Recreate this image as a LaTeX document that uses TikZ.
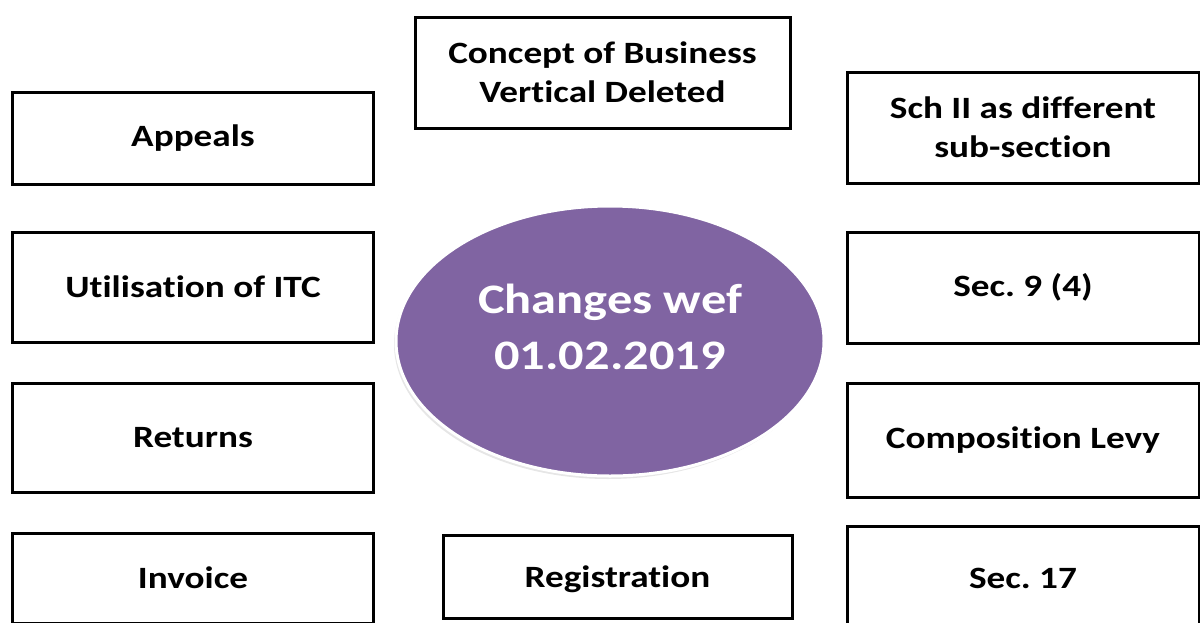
\documentclass[tikz,border=0pt]{standalone}
\usepackage{fontspec}
\setmainfont{Carlito}[FakeStretch=1.2, Ligatures={NoCommon}]
\usetikzlibrary{shapes.geometric,shadows}
\definecolor{hubpurple}{HTML}{8064A2}
\frenchspacing
\begin{document}
\begin{tikzpicture}[x=1pt,y=-1pt]

\def\lcol{193}
\def\rcol{1023}

\tikzset{
        every node/.style={font=\fontsize{31}{39}\selectfont\bfseries, align=center, inner sep=0pt},
        item/.style={draw, line width=3pt},
        hub/.style={ellipse, fill=hubpurple, draw=white, line width=3pt,
                drop shadow={shadow xshift=-2pt, shadow yshift=-3pt, opacity=.2, fill=gray}},
        hub text/.style={text=white, font=\fontsize{42}{56}\selectfont\bfseries}
}

\useasboundingbox (0,0) rectangle (1200,622);

% centre
\node[hub, minimum width=428pt, minimum height=270pt] (H) at (610,341) {};
\node[hub text] (H label) at ([yshift=14pt]H.center) {Changes wef\\01.02.2019};

% left column
\foreach \n/\y/\h/\t in {appeals/138/92/Appeals, itc/287/110/Utilisation of ITC,
                         returns/437.5/109/Returns, invoice/578/90/Invoice} {
     \node[item, minimum width=361pt, minimum height=\h pt] (\n) at (\lcol,\y) {\t};
}

% right column
\foreach \n/\y/\h/\t in {sch/127.5/111/Sch II as different\\sub-section, sec9/287.5/111/Sec. 9 (4),
                         levy/440/114/Composition Levy, sec17/578/104/Sec. 17} {
     \node[item, minimum width=352pt, minimum height=\h pt] (\n) at (\rcol,\y) {\t};
}

% top and bottom of the middle
\node[item, minimum width=375pt, minimum height=111pt] (vertical) at (602.5,72.5) {Concept of Business\\Vertical Deleted};
\node[item, minimum width=349pt, minimum height=83pt, text depth=0pt] (reg) at (617.5,576.5) {Registration};

\end{tikzpicture}
\end{document}
